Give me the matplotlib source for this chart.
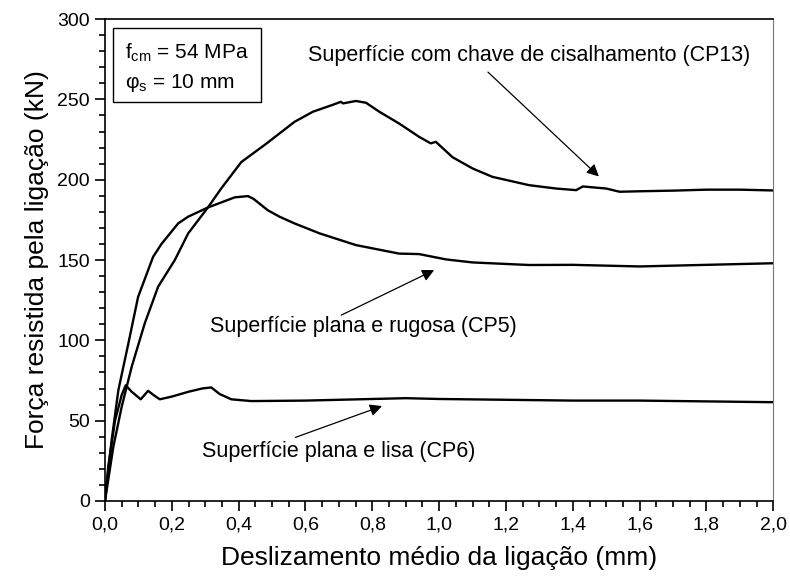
import numpy as np
import matplotlib
matplotlib.use('Agg')
import matplotlib.pyplot as plt
from matplotlib.patches import Rectangle
from matplotlib.ticker import MultipleLocator, FuncFormatter

plt.rcParams['font.family'] = ['Liberation Sans', 'DejaVu Sans']
plt.rcParams['mathtext.fontset'] = 'custom'
plt.rcParams['mathtext.rm'] = 'Liberation Sans'
plt.rcParams['mathtext.it'] = 'Liberation Sans'

# CP13 - superficie com chave de cisalhamento
x_cp13 = [0, 0.025, 0.05, 0.08, 0.119, 0.159, 0.209, 0.249, 0.308, 0.348, 0.408, 0.48,
          0.567, 0.622, 0.68, 0.706, 0.712, 0.751, 0.781, 0.821, 0.88, 0.94, 0.975, 0.99,
          1.04, 1.1, 1.159, 1.269, 1.35, 1.41, 1.43, 1.44, 1.5, 1.54, 1.6, 1.7, 1.8, 1.9, 2.0]
y_cp13 = [0, 33.8, 58.7, 83.6, 110.6, 133.4, 150, 166.6, 182.7, 194.6, 211, 222,
          236, 242.3, 246.5, 248.5, 247.5, 249, 247.9, 242.3, 235, 226.7, 222.6, 223.6,
          214, 207, 201.8, 196.6, 194.5, 193.5, 195.8, 195.6, 194.5, 192.5, 192.8, 193.2, 193.8, 193.8, 193.3]

# CP5 - superficie plana e rugosa
x_cp5 = [0, 0.02, 0.04, 0.07, 0.099, 0.144, 0.169, 0.219, 0.249, 0.308, 0.388, 0.428,
         0.445, 0.487, 0.522, 0.567, 0.642, 0.751, 0.88, 0.94, 1.02, 1.1, 1.269, 1.4,
         1.6, 1.8, 2.0]
y_cp5 = [0, 38, 69, 98.1, 127, 152, 160, 172.8, 177, 182.7, 189, 189.8,
         188, 181, 177, 172.8, 166.6, 159.3, 154, 153.7, 150.4, 148.5, 146.9, 147,
         146, 147, 148]

# CP6 - superficie plana e lisa
x_cp6 = [0, 0.01, 0.03, 0.05, 0.062, 0.08, 0.107, 0.129, 0.145, 0.164, 0.2, 0.25,
         0.29, 0.318, 0.343, 0.378, 0.438, 0.6, 0.8, 0.9, 1.0, 1.2, 1.4, 1.6, 1.8, 2.0]
y_cp6 = [0, 22, 50, 66, 72, 68, 63.3, 68.6, 66, 63.3, 65, 68,
         70, 70.7, 66.6, 63.3, 62.2, 62.5, 63.5, 64, 63.5, 63, 62.5, 62.5, 62, 61.5]

fig = plt.figure(figsize=(7.9, 5.81), dpi=100)
ax = fig.add_axes([0.1329, 0.1377, 0.846, 0.8295])

for xs, ys in [(x_cp13, y_cp13), (x_cp5, y_cp5), (x_cp6, y_cp6)]:
    ax.plot(xs, ys, color='black', lw=1.7, solid_joinstyle='round')

ax.set_xlim(0, 2.0)
ax.set_ylim(0, 300)
ax.xaxis.set_major_locator(MultipleLocator(0.2))
ax.xaxis.set_minor_locator(MultipleLocator(0.05))
ax.yaxis.set_major_locator(MultipleLocator(50))
ax.yaxis.set_minor_locator(MultipleLocator(10))
ax.xaxis.set_major_formatter(FuncFormatter(lambda v, p: f'{v:.1f}'.replace('.', ',')))
ax.tick_params(which='major', direction='out', length=7, width=1.2, labelsize=14, pad=4)
ax.tick_params(which='minor', direction='out', length=4, width=1.2)
ax.tick_params(top=False, right=False, which='both')
for s in ['left', 'bottom', 'top']:
    ax.spines[s].set_linewidth(1.2)
ax.spines['right'].set_color('#777777')

ax.set_xlabel('Deslizamento médio da ligação (mm)', fontsize=19, labelpad=9)
ax.set_ylabel('Força resistida pela ligação (kN)', fontsize=19, labelpad=6)

# caixa com os dados do ensaio
ax.add_patch(Rectangle((0.0119, 0.828), 0.222, 0.153, transform=ax.transAxes,
                       fc='white', ec='black', lw=1, zorder=3))
ax.text(0.03, 0.918, 'f$_{\\mathregular{cm}}$ = 54 MPa', transform=ax.transAxes,
        fontsize=15, va='baseline', ha='left', zorder=4)
ax.text(0.03, 0.856, 'φ$_{\\mathregular{s}}$ = 10 mm', transform=ax.transAxes,
        fontsize=15, va='baseline', ha='left', zorder=4)

# legendas das curvas com setas
arrow = dict(arrowstyle='-|>', color='black', lw=0.9, mutation_scale=18,
             shrinkA=0, shrinkB=0)
ax.text(1.93, 274, 'Superfície com chave de cisalhamento (CP13)', fontsize=15.5,
        ha='right', va='baseline')
ax.annotate('', xy=(1.478, 202), xytext=(1.146, 267), arrowprops=arrow)
ax.text(0.313, 105.4, 'Superfície plana e rugosa (CP5)', fontsize=15.5,
        ha='left', va='baseline')
ax.annotate('', xy=(0.985, 143.7), xytext=(0.707, 115.7), arrowprops=arrow)
ax.text(0.289, 27.6, 'Superfície plana e lisa (CP6)', fontsize=15.5,
        ha='left', va='baseline')
ax.annotate('', xy=(0.829, 59.1), xytext=(0.57, 39.6), arrowprops=arrow)

fig.savefig('out.png', dpi=100)
